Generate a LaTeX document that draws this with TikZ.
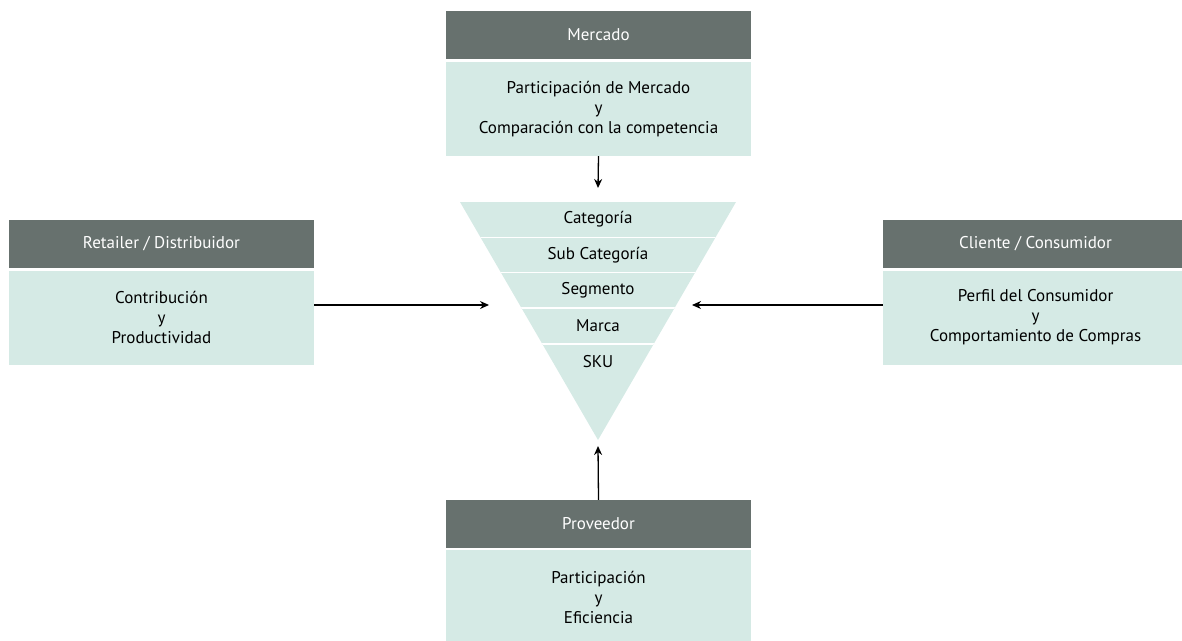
\documentclass[tikz,border=0pt]{standalone}
\usepackage{fontspec}
\setmainfont{PT Sans}
\usetikzlibrary{arrows.meta}

\definecolor{headgray}{HTML}{67716E}
\definecolor{bodyteal}{HTML}{D5EAE5}

\tikzset{
  head/.style={fill=headgray, text=white, minimum width=305pt, minimum height=48pt, inner sep=0pt, font=\fontsize{17}{20}\selectfont},
  body/.style={fill=bodyteal, minimum width=305pt, minimum height=94pt, inner sep=0pt, align=center, font=\fontsize{17}{20}\selectfont},
  band/.style={inner sep=0pt, font=\fontsize{17}{20}\selectfont},
  link/.style={-{Stealth[length=9pt, width=8pt]}, line width=1.3pt}
}

\begin{document}
\begin{tikzpicture}[x=1pt, y=-1pt]
\useasboundingbox (0,0) rectangle (1182,640);

\node[head] (merhead) at (598.5, 35) {Mercado};
\node[body] (merbody) at (598.5, 109) {Participación de Mercado\\y\\Comparación con la competencia};

\node[head] (rethead) at (161.5, 244) {Retailer / Distribuidor};
\node[body] (retbody) at (161.5, 317.5) {Contribución\\y\\Productividad};

\node[head] (clihead) at (1035.5, 244) {Cliente / Consumidor};
\node[body] (clibody) at (1035.5, 317.5) {Perfil del Consumidor\\y\\Comportamiento de Compras};

\node[head] (prohead) at (598.5, 524) {Proveedor};
\node[body] (probody) at (598.5, 597) {Participación\\y\\Eficiencia};

% embudo
\coordinate (tl) at (460, 202);
\coordinate (tr) at (736, 202);
\coordinate (apex) at (598, 440);
\fill[bodyteal] (tl) -- (tr) -- (apex) -- cycle;
\begin{scope}
  \clip (tl) -- (tr) -- (apex) -- cycle;
  \foreach \y in {237.5, 272.5, 308, 344}
    \draw[white, line width=1.6pt] (440, \y) -- (760, \y);
\end{scope}

\node[band] (cat) at (598, 219) {Categoría};
\node[band] (sub) at (598, 255) {Sub Categoría};
\node[band] (seg) at (598, 290) {Segmento};
\node[band] (mar) at (598, 326) {Marca};
\node[band] (sku) at (598, 362) {SKU};

\coordinate (inT) at (598, 188);
\coordinate (inL) at (489, 305);
\coordinate (inR) at (692, 305);
\coordinate (inB) at (598, 446);

\draw[link] (merbody.south) -- (inT);
\draw[link] (retbody.east |- inL) -- (inL);
\draw[link] (clibody.west |- inR) -- (inR);
\draw[link] (prohead.north) -- (inB);

\end{tikzpicture}
\end{document}
